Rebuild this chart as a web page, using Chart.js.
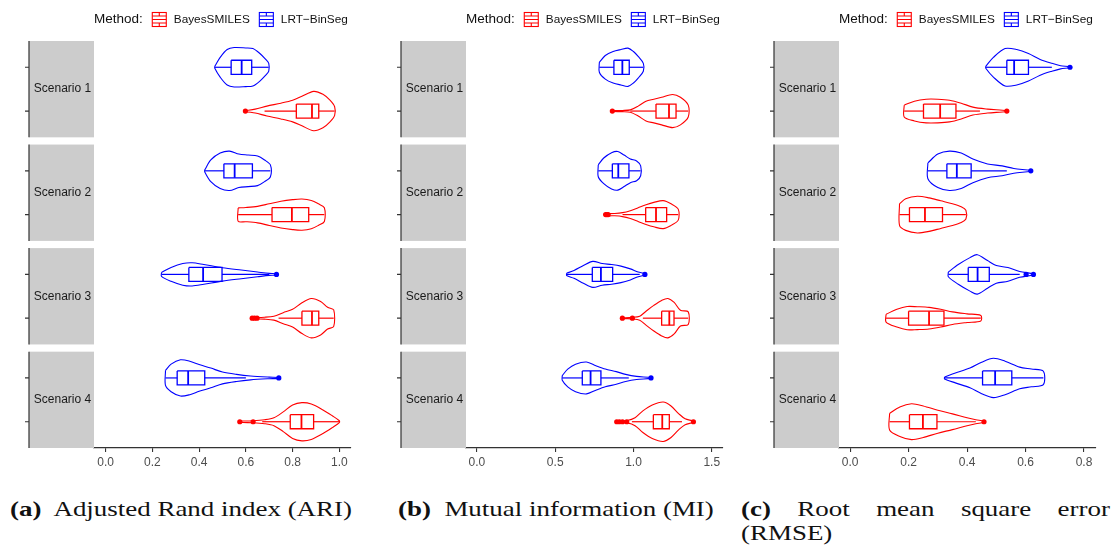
<!DOCTYPE html>
<html>
<head>
<meta charset="utf-8">
<script src="https://cdn.jsdelivr.net/npm/chart.js@4.4.1/dist/chart.umd.min.js"></script>
<style>
  body { margin: 0; background: #fff; width: 1114px; height: 555px; overflow: hidden; position: relative; }
  .panel { position: absolute; top: 0; height: 475px; }
  .cap { position: absolute; font-family: "Liberation Serif", serif; font-size: 21px; line-height: 24px;
         color: #111; white-space: nowrap; transform-origin: 0 0; }
  .cap b { font-weight: bold; }
</style>
</head>
<body>
<div class="panel" style="left:0;width:370px"><canvas id="ari"></canvas></div>
<div class="panel" style="left:370px;width:370px"><canvas id="mi"></canvas></div>
<div class="panel" style="left:740px;width:374px"><canvas id="rmse"></canvas></div>

<div class="cap" id="capA" style="left:10px;top:497px"><b>(a)</b>&nbsp; Adjusted Rand index (ARI)</div>
<div class="cap" id="capB" style="left:398px;top:497px"><b>(b)</b>&nbsp; Mutual information (MI)</div>
<div class="cap" id="capC" style="left:741px;top:497px">
  <div id="capC1" style="text-align:justify;text-align-last:justify;white-space:normal"><b>(c)</b> Root mean square error</div>
  <div>(RMSE)</div>
</div>

<script>
const scenarios = ['Scenario 1', 'Scenario 2', 'Scenario 3', 'Scenario 4'];
const methods = ['BayesSMILES', 'LRT\u2212BinSeg'];
const methodColors = ['#FF0000', '#0000FF'];

// x tick labels per panel
const ariTicks = [0, 0.2, 0.4, 0.6, 0.8, 1.0];
const miTicks = [0, 0.5, 1.0, 1.5];
const rmseTicks = [0, 0.2, 0.4, 0.6, 0.8];

// violin profiles: [value, relative half width], one list per scenario
const ariBayesViolin = [
  [[0.598,0.02],[0.64,0.1],[0.69,0.25],[0.75,0.4],[0.80,0.55],[0.84,0.75],[0.89,1.0],[0.93,0.85],[0.96,0.55],[0.98,0.22]],
  [[0.567,0.34],[0.60,0.36],[0.65,0.42],[0.70,0.55],[0.75,0.68],[0.80,0.76],[0.84,0.79],[0.88,0.72],[0.91,0.55],[0.936,0.35]],
  [[0.627,0.03],[0.68,0.05],[0.72,0.1],[0.76,0.28],[0.80,0.45],[0.84,0.78],[0.88,1.0],[0.92,0.85],[0.95,0.55],[0.976,0.42]],
  [[0.574,0.03],[0.63,0.05],[0.68,0.1],[0.72,0.2],[0.76,0.5],[0.80,0.85],[0.84,0.97],[0.88,0.9],[0.93,0.6],[0.97,0.3],[1.0,0.05]]
];
const ariLrtViolin = [
  [[0.467,0.05],[0.49,0.5],[0.52,0.9],[0.55,1.0],[0.60,0.98],[0.63,0.95],[0.66,0.7],[0.685,0.4],[0.698,0.2]],
  [[0.424,0.05],[0.45,0.55],[0.49,0.9],[0.53,1.0],[0.57,0.85],[0.61,0.8],[0.65,0.75],[0.68,0.55],[0.705,0.3]],
  [[0.239,0.1],[0.28,0.35],[0.33,0.55],[0.37,0.59],[0.42,0.5],[0.50,0.34],[0.58,0.22],[0.65,0.12],[0.70,0.05],[0.731,0.03]],
  [[0.256,0.38],[0.28,0.7],[0.32,0.92],[0.36,0.85],[0.40,0.68],[0.45,0.5],[0.50,0.3],[0.56,0.18],[0.62,0.1],[0.70,0.04],[0.741,0.02]]
];
// box stats: [lower whisker, q1, median, q3, upper whisker]
const ariBayesBox = [[0.68,0.816,0.883,0.912,0.98],[0.567,0.712,0.797,0.869,0.936],[0.74,0.84,0.883,0.912,0.976],[0.67,0.79,0.838,0.89,1.0]];
const ariLrtBox = [[0.467,0.537,0.582,0.625,0.698],[0.424,0.506,0.552,0.628,0.705],[0.239,0.356,0.417,0.498,0.70],[0.256,0.306,0.353,0.424,0.60]];
const ariBayesOut = [[0.598], [], [0.627,0.637,0.648], [0.574,0.631]];
const ariLrtOut = [[], [], [0.731], [0.741]];

const miBayesViolin = [
  [[0.865,0.02],[0.93,0.03],[0.98,0.06],[1.03,0.25],[1.08,0.5],[1.13,0.6],[1.18,0.7],[1.25,0.84],[1.30,0.7],[1.35,0.3]],
  [[0.83,0.05],[0.88,0.06],[0.93,0.1],[0.98,0.2],[1.03,0.35],[1.08,0.5],[1.13,0.62],[1.19,0.71],[1.24,0.55],[1.286,0.28]],
  [[0.929,0.02],[0.99,0.04],[1.04,0.1],[1.08,0.35],[1.13,0.65],[1.18,0.9],[1.22,1.0],[1.26,0.8],[1.30,0.4],[1.35,0.32]],
  [[0.893,0.03],[0.96,0.06],[1.01,0.2],[1.06,0.55],[1.12,0.85],[1.19,1.0],[1.24,0.8],[1.29,0.4],[1.33,0.15],[1.383,0.03]]
];
const miLrtViolin = [
  [[0.782,0.25],[0.82,0.6],[0.87,0.8],[0.92,0.9],[0.965,0.97],[1.0,0.8],[1.03,0.55],[1.063,0.2]],
  [[0.775,0.3],[0.81,0.65],[0.86,0.92],[0.90,0.98],[0.94,0.8],[0.98,0.6],[1.02,0.5],[1.046,0.25]],
  [[0.573,0.06],[0.62,0.2],[0.68,0.45],[0.74,0.66],[0.80,0.55],[0.86,0.5],[0.92,0.42],[0.98,0.28],[1.03,0.12],[1.073,0.03]],
  [[0.545,0.12],[0.58,0.45],[0.63,0.7],[0.70,0.81],[0.76,0.62],[0.82,0.45],[0.89,0.32],[0.95,0.18],[1.02,0.08],[1.112,0.02]]
];
const miBayesBox = [[0.98,1.144,1.227,1.272,1.35],[0.93,1.078,1.144,1.212,1.286],[1.06,1.18,1.229,1.259,1.35],[0.99,1.127,1.184,1.229,1.31]];
const miLrtBox = [[0.782,0.875,0.929,0.973,1.063],[0.775,0.865,0.903,0.971,1.046],[0.573,0.737,0.792,0.867,1.04],[0.545,0.673,0.726,0.792,0.97]];
const miBayesOut = [[0.865], [0.822,0.83,0.838], [0.929,0.993], [0.893,0.91,0.93,0.957,1.383]];
const miLrtOut = [[], [], [1.073], [1.112]];

const rmseBayesViolin = [
  [[0.185,0.3],[0.22,0.5],[0.26,0.6],[0.30,0.6],[0.34,0.55],[0.38,0.4],[0.42,0.2],[0.47,0.1],[0.536,0.02]],
  [[0.169,0.55],[0.19,0.8],[0.23,0.93],[0.27,0.85],[0.31,0.7],[0.35,0.55],[0.38,0.4],[0.396,0.22]],
  [[0.123,0.2],[0.16,0.45],[0.195,0.59],[0.23,0.58],[0.27,0.55],[0.31,0.45],[0.35,0.32],[0.40,0.22],[0.447,0.14]],
  [[0.135,0.42],[0.17,0.75],[0.21,0.91],[0.25,0.8],[0.30,0.58],[0.35,0.4],[0.40,0.2],[0.43,0.1],[0.458,0.03]]
];
const rmseLrtViolin = [
  [[0.464,0.05],[0.49,0.5],[0.53,0.95],[0.57,0.9],[0.61,0.7],[0.65,0.4],[0.69,0.2],[0.72,0.08],[0.752,0.02]],
  [[0.266,0.4],[0.30,0.85],[0.34,1.0],[0.38,0.9],[0.42,0.6],[0.47,0.35],[0.52,0.25],[0.56,0.12],[0.618,0.02]],
  [[0.336,0.12],[0.37,0.5],[0.41,0.85],[0.435,1.0],[0.47,0.7],[0.50,0.45],[0.54,0.35],[0.58,0.15],[0.627,0.03]],
  [[0.323,0.05],[0.36,0.25],[0.41,0.5],[0.45,0.8],[0.49,1.0],[0.53,0.85],[0.58,0.55],[0.62,0.45],[0.661,0.34]]
];
const rmseBayesBox = [[0.185,0.251,0.308,0.362,0.444],[0.169,0.203,0.256,0.316,0.396],[0.123,0.2,0.27,0.321,0.447],[0.135,0.203,0.249,0.297,0.43]];
const rmseLrtBox = [[0.464,0.536,0.561,0.61,0.69],[0.266,0.331,0.365,0.414,0.536],[0.336,0.404,0.436,0.476,0.58],[0.323,0.453,0.496,0.553,0.661]];
const rmseBayesOut = [[0.536], [], [], [0.458]];
const rmseLrtOut = [[0.752], [0.618], [0.602,0.627], []];

// facet geometry in y units (44px per unit roughly)
const FACET_H = 2.2, FACET_GAP = 0.165;
const STEP = FACET_H + FACET_GAP;
const Y_MAX = 4 * FACET_H + 3 * FACET_GAP;
const POS = [1.6, 0.6];          // Bayes lower row, LRT upper row
const HALF_W = 0.45, BOX_H = 0.16;

function line(data, color, width, tension) {
  return { data, showLine: true, borderColor: color, backgroundColor: color, borderWidth: width,
           pointRadius: 0, pointHoverRadius: 0, tension: tension || 0, fill: false };
}

function methodDatasets(violins, boxes, outs, m) {
  const color = methodColors[m];
  const sets = [];
  scenarios.forEach((s, k) => {
    const yc = k * STEP + POS[m];
    const prof = violins[k];
    const upper = prof.map(([x, w]) => ({ x, y: yc - w * HALF_W }));
    const lower = prof.slice().reverse().map(([x, w]) => ({ x, y: yc + w * HALF_W }));
    sets.push(line(upper.concat(lower, [upper[0]]), color, 1.1, 0.3));

    const [lo, q1, med, q3, hi] = boxes[k];
    sets.push(line([{x:q1,y:yc-BOX_H},{x:q3,y:yc-BOX_H},{x:q3,y:yc+BOX_H},{x:q1,y:yc+BOX_H},{x:q1,y:yc-BOX_H}], color, 1.3));
    sets.push(line([{x:med,y:yc-BOX_H},{x:med,y:yc+BOX_H}], color, 1.8));
    sets.push(line([{x:lo,y:yc},{x:q1,y:yc}], color, 1.2));
    sets.push(line([{x:q3,y:yc},{x:hi,y:yc}], color, 1.2));

    if (outs[k].length) {
      sets.push({ data: outs[k].map(x => ({ x, y: yc })), showLine: false, pointRadius: 2.6,
                  pointBorderWidth: 0, pointBackgroundColor: color, pointHoverRadius: 2.6 });
    }
  });
  return sets;
}

function drawIcon(ctx, x, y, color) {
  const s = 14;
  ctx.save();
  ctx.strokeStyle = color;
  ctx.lineWidth = 1.1;
  ctx.strokeRect(x + 0.5, y + 0.5, s, s);
  ctx.beginPath();
  ctx.moveTo(x + 0.5, y + 4); ctx.lineTo(x + s + 0.5, y + 4);
  ctx.moveTo(x + 0.5, y + 7.5); ctx.lineTo(x + s + 0.5, y + 7.5);
  ctx.moveTo(x + 0.5, y + 11); ctx.lineTo(x + s + 0.5, y + 11);
  ctx.moveTo(x + 7.5, y + 0.5); ctx.lineTo(x + 7.5, y + 4);
  ctx.moveTo(x + 7.5, y + 11); ctx.lineTo(x + 7.5, y + s + 0.5);
  ctx.stroke();
  ctx.restore();
}

const facetDecor = {
  id: 'facetDecor',
  beforeDatasetsDraw(chart) {
    const { ctx, chartArea, scales } = chart;
    const y = scales.y;
    const stripL = chartArea.left - 65;
    ctx.save();
    scenarios.forEach((s, k) => {
      const top = y.getPixelForValue(k * STEP);
      const bot = y.getPixelForValue(k * STEP + FACET_H);
      ctx.fillStyle = '#cccccc';
      ctx.fillRect(stripL, top, chartArea.left - stripL, bot - top);
      ctx.fillStyle = '#1a1a1a';
      ctx.font = '12px "Liberation Sans", Arial, sans-serif';
      ctx.textAlign = 'center';
      ctx.textBaseline = 'middle';
      ctx.fillText(s, (stripL + chartArea.left) / 2 + 1, (top + bot) / 2);
      ctx.strokeStyle = '#333333';
      ctx.lineWidth = 1.2;
      ctx.beginPath();
      ctx.moveTo(stripL, top); ctx.lineTo(stripL, bot);
      POS.forEach(p => {
        const py = y.getPixelForValue(k * STEP + p);
        ctx.moveTo(stripL - 4, py); ctx.lineTo(stripL, py);
      });
      ctx.stroke();
    });
    ctx.restore();
  },
  afterDraw(chart) {
    const { ctx, chartArea } = chart;
    ctx.save();
    ctx.textBaseline = 'middle';
    ctx.textAlign = 'left';
    ctx.fillStyle = '#111';
    let x = chartArea.left;
    const yMid = 19.5;
    ctx.font = '13.5px "Liberation Sans", Arial, sans-serif';
    ctx.fillText('Method:', x, yMid);
    x += ctx.measureText('Method:').width + 9;
    ctx.font = '11.8px "Liberation Sans", Arial, sans-serif';
    methods.forEach((m, i) => {
      drawIcon(ctx, x, yMid - 7.5, methodColors[i]);
      x += 22;
      ctx.fillStyle = '#111';
      ctx.fillText(m, x, yMid);
      x += ctx.measureText(m).width + 9;
    });
    ctx.restore();
  }
};

function makePanel(id, violinsB, violinsL, boxB, boxL, outB, outL, ticks, xMin, xMax, padL, padR) {
  const canvas = document.getElementById(id);
  const w = canvas.parentNode.clientWidth;
  canvas.width = w;
  canvas.height = 475;
  canvas.style.width = w + 'px';
  canvas.style.height = '475px';
  const datasets = methodDatasets(violinsB, boxB, outB, 0).concat(methodDatasets(violinsL, boxL, outL, 1));
  new Chart(canvas.getContext('2d'), {
    type: 'scatter',
    data: { datasets },
    options: {
      responsive: false,
      animation: false,
      layout: { padding: { top: 41, left: padL, right: padR, bottom: 0 } },
      scales: {
        x: {
          type: 'linear', min: xMin, max: xMax,
          afterBuildTicks: (scale) => { scale.ticks = ticks.map(v => ({ value: v })); },
          afterFit: (scale) => { scale.height = 27; },
          grid: { drawOnChartArea: false, drawTicks: true, tickLength: 4, color: '#333333', lineWidth: 1.1 },
          border: { display: true, color: '#333333', width: 1.2 },
          ticks: { color: '#4d4d4d', padding: 3, maxRotation: 0, autoSkip: false,
                   font: { size: 12, family: '"Liberation Sans", Arial, sans-serif' },
                   callback: (v) => Number(v).toFixed(1) }
        },
        y: { type: 'linear', display: false, min: 0, max: Y_MAX, reverse: true }
      },
      plugins: { legend: { display: false }, tooltip: { enabled: false } }
    },
    plugins: [facetDecor]
  });
}

makePanel('ari', ariBayesViolin, ariLrtViolin, ariBayesBox, ariLrtBox, ariBayesOut, ariLrtOut, ariTicks, -0.05, 1.05, 94, 19);
makePanel('mi', miBayesViolin, miLrtViolin, miBayesBox, miLrtBox, miBayesOut, miLrtOut, miTicks, -0.07, 1.572, 96, 17);
makePanel('rmse', rmseBayesViolin, rmseLrtViolin, rmseBayesBox, rmseLrtBox, rmseBayesOut, rmseLrtOut, rmseTicks, -0.038, 0.841, 99, 18);

// stretch the serif captions to the width they take in the reference
const capA = document.getElementById('capA');
const sx = 342 / capA.getBoundingClientRect().width;
['capA', 'capB', 'capC'].forEach(id => {
  document.getElementById(id).style.transform = 'scaleX(' + sx + ')';
});
document.getElementById('capC1').style.width = (369 / sx) + 'px';
</script>
</body>
</html>
